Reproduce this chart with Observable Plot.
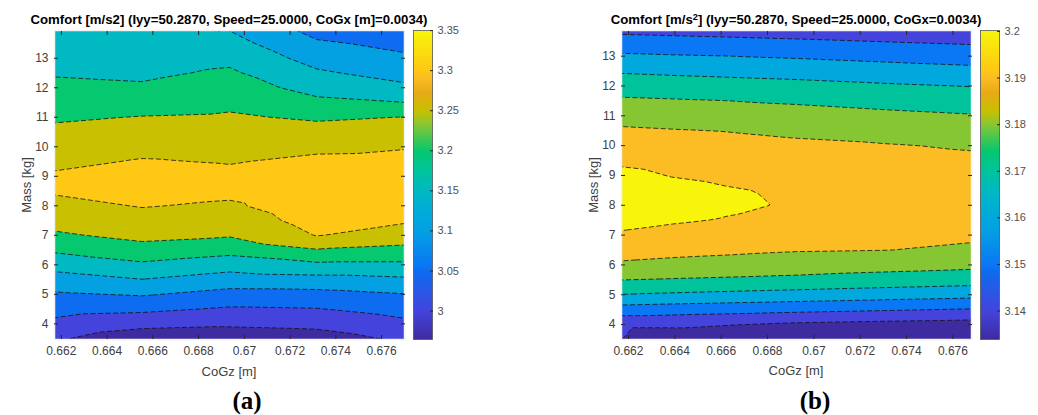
<!DOCTYPE html>
<html><head><meta charset="utf-8">
<script src="https://cdn.jsdelivr.net/npm/d3@7"></script>
<script src="https://cdn.jsdelivr.net/npm/@observablehq/plot@0.6"></script>
<style>
body{margin:0;background:#fff;font-family:"Liberation Sans",Arial,sans-serif;}
#root{position:relative;width:1038px;height:415px;overflow:hidden;background:#fff;}
.abs{position:absolute;line-height:1;white-space:nowrap;}
.title{font-weight:bold;font-size:13.2px;color:#000;transform:translate(-50%,-50%);}
.title sup{font-size:0.7em;vertical-align:0.45em;line-height:0;}
.xlabel{font-size:13px;color:#404040;transform:translate(-50%,-50%);}
.ylabel{font-size:13px;color:#404040;transform:translate(-50%,-50%) rotate(-90deg);}
.tag{font-family:"Liberation Serif",serif;font-weight:bold;font-size:25px;color:#000;transform:translate(-50%,-50%);}
</style></head><body><div id="root"></div>
<script>
// ---------- data: panel (a) ----------
const titleA = "Comfort [m/s2] (Iyy=50.2870, Speed=25.0000, CoGx [m]=0.0034)";
const massA = [3.45, 4, 4.5, 5, 5.5, 6, 6.5, 7, 7.5, 8, 8.5, 9, 9.5, 10, 10.5, 11, 11.5, 12, 12.5, 13, 13.5, 14];
const cogzA = [0.6617, 0.66553, 0.66935, 0.67318, 0.6770];
const comfortA1 = [3.0038, 3.038, 3.0667, 3.0935, 3.129, 3.168, 3.207, 3.2435, 3.266, 3.286, 3.305, 3.306, 3.2895, 3.2746, 3.2596, 3.244, 3.2275, 3.211, 3.196, 3.184, 3.172, 3.160];
const comfortA2 = [2.9639, 3.0148, 3.0605, 3.1045, 3.149, 3.1915, 3.2333, 3.2621, 3.2823, 3.3024, 3.318, 3.322, 3.3035, 3.2862, 3.269, 3.2517, 3.2293, 3.2064, 3.191, 3.1785, 3.166, 3.1535];
const comfortA3 = [2.967, 3.0074, 3.0441, 3.0833, 3.1264, 3.1718, 3.2161, 3.2539, 3.2736, 3.2933, 3.311, 3.312, 3.297, 3.2832, 3.2694, 3.2556, 3.2401, 3.2237, 3.2072, 3.1884, 3.1678, 3.147];
const comfortA4 = [2.974, 3.0127, 3.0479, 3.0845, 3.1322, 3.1905, 3.2467, 3.302, 3.318, 3.328, 3.33, 3.325, 3.311, 3.2891, 3.2674, 3.2435, 3.211, 3.1828, 3.1568, 3.1315, 3.1065, 3.0815];
const comfortA5 = [3.0065, 3.0388, 3.0684, 3.0982, 3.142, 3.1902, 3.237, 3.275, 3.306, 3.318, 3.323, 3.322, 3.313, 3.297, 3.274, 3.251, 3.2003, 3.1597, 3.1314, 3.1069, 3.0888, 3.074];
const levelsA = [3.0, 3.05, 3.1, 3.15, 3.2, 3.25, 3.3];
const colorDomainA = [2.9645, 3.3501];
const cbarTicksA = [3, 3.05, 3.1, 3.15, 3.2, 3.25, 3.3, 3.35];
const xDomainA = [0.6617, 0.6770];
const yDomainA = [3.47, 13.94];

// ---------- data: panel (b) ----------
const titleB = "Comfort [m/s<sup>2</sup>] (Iyy=50.2870, Speed=25.0000, CoGx=0.0034)";
const massB = [3.5, 4, 4.5, 5, 5.5, 6, 6.5, 7, 7.5, 8, 8.5, 9, 9.5, 10, 10.5, 11, 11.5, 12, 12.5, 13, 13.5, 14];
const cogzB = [0.6617, 0.6639, 0.6662, 0.6676, 0.6692, 0.6731, 0.6768];
const comfortB1 = [3.1401, 3.1416, 3.1556, 3.1697, 3.1801, 3.1885, 3.194, 3.1988, 3.2028, 3.205, 3.205, 3.2025, 3.1982, 3.1947, 3.1913, 3.1867, 3.1815, 3.1755, 3.169, 3.1615, 3.1536, 3.1457];
const comfortB2 = [3.134, 3.1417, 3.1546, 3.1686, 3.1793, 3.1873, 3.1928, 3.1971, 3.201, 3.2035, 3.203, 3.1996, 3.1966, 3.1935, 3.1905, 3.1858, 3.1808, 3.1747, 3.1681, 3.1607, 3.1529, 3.1451];
const comfortB3 = [3.134, 3.1404, 3.1537, 3.1676, 3.1786, 3.1863, 3.1919, 3.1957, 3.1995, 3.2015, 3.2008, 3.198, 3.1953, 3.1926, 3.1898, 3.1849, 3.1801, 3.1739, 3.1673, 3.1601, 3.1522, 3.1444];
const comfortB4 = [3.134, 3.1395, 3.1532, 3.1669, 3.1782, 3.1857, 3.1912, 3.1943, 3.1975, 3.2007, 3.1998, 3.1972, 3.1946, 3.1921, 3.1892, 3.1844, 3.1794, 3.1734, 3.1668, 3.1595, 3.1517, 3.144];
const comfortB5 = [3.134, 3.1383, 3.1525, 3.1662, 3.1777, 3.1851, 3.1906, 3.1931, 3.1962, 3.1985, 3.1978, 3.196, 3.1938, 3.1915, 3.1885, 3.1838, 3.1788, 3.1729, 3.1662, 3.1589, 3.1512, 3.1435];
const comfortB6 = [3.134, 3.1368, 3.1508, 3.1646, 3.1758, 3.1837, 3.1901, 3.1925, 3.1945, 3.1958, 3.1955, 3.1943, 3.1925, 3.1905, 3.1866, 3.1821, 3.1769, 3.1712, 3.1644, 3.1571, 3.1497, 3.1423];
const comfortB7 = [3.1345, 3.1358, 3.1492, 3.1631, 3.1743, 3.1824, 3.1888, 3.1912, 3.1932, 3.1943, 3.1942, 3.1932, 3.1915, 3.1892, 3.1849, 3.1806, 3.1753, 3.1697, 3.1627, 3.1556, 3.1484, 3.1413];
const levelsB = [3.14, 3.15, 3.16, 3.17, 3.18, 3.19, 3.2];
const colorDomainB = [3.1339, 3.2002];
const cbarTicksB = [3.14, 3.15, 3.16, 3.17, 3.18, 3.19, 3.2];
const xDomainB = [0.6617, 0.6768];
const yDomainB = [3.5, 13.86];

// ---------- shared ----------
const xTicks = [0.662, 0.664, 0.666, 0.668, 0.67, 0.672, 0.674, 0.676];
const yTicks = [4, 5, 6, 7, 8, 9, 10, 11, 12, 13];
const cmapStops = [0, 0.091, 0.221, 0.242, 0.351, 0.394, 0.481, 0.545, 0.61, 0.697, 0.74, 0.80, 0.848, 0.87, 1];
const cmapColors = ["#3e2ba0", "#4444dc", "#0e6cf0", "#0a78f5", "#03a0e2", "#00a8de", "#00b9c3", "#00c39b", "#05c870", "#8ac632", "#c8c000", "#e8aa18", "#fcbe23", "#ffc814", "#f8f50a"];

const cmap = d3.scaleLinear().domain(cmapStops).range(cmapColors).interpolate(d3.interpolateRgb).clamp(true);
const fmt = d => `${d}`;
const font = "'Liberation Sans', Arial, sans-serif";

function toGrid(cols, rows, columns) {
  const out = [];
  cols.forEach((x, i) => rows.forEach((y, j) => out.push({x, y, z: columns[i][j]})));
  return out;
}

function panel({data, xDomain, yDomain, cDomain, levels}) {
  const base = cDomain[0] - 1;
  return Plot.plot({
    width: 410, height: 380, marginTop: 30, marginBottom: 41, marginLeft: 54, marginRight: 6,
    style: {fontFamily: font, fontSize: "12px", background: "transparent", overflow: "visible"},
    x: {domain: xDomain, label: null},
    y: {domain: yDomain, label: null},
    color: {type: "linear", domain: cDomain, interpolate: t => cmap(t), clamp: true},
    marks: [
      Plot.contour(data, {x: "x", y: "y", fill: "z", thresholds: [base, ...levels], interpolate: "barycentric", stroke: "none", pixelSize: 1}),
      Plot.contour(data, {x: "x", y: "y", value: "z", thresholds: levels, interpolate: "barycentric", fill: "none", stroke: "#111", strokeWidth: 0.8, strokeDasharray: "5,2.5", pixelSize: 1, clip: true}),
      Plot.frame({stroke: "#f2f2f2", strokeWidth: 1.5}),
      Plot.axisX(xTicks, {anchor: "bottom", tickSize: -4, tickPadding: 11, tickFormat: fmt, stroke: "#262626", fill: "#404040", label: null}),
      Plot.axisX(xTicks, {anchor: "top", tickSize: -4, tickFormat: () => "", stroke: "#262626", label: null}),
      Plot.axisY(yTicks, {anchor: "left", tickSize: -4, tickPadding: 10, tickFormat: fmt, stroke: "#262626", fill: "#404040", label: null}),
      Plot.axisY(yTicks, {anchor: "right", tickSize: -4, tickFormat: () => "", stroke: "#262626", label: null})
    ]
  });
}

function colorbar({cDomain, ticks, width, marginRight}) {
  return Plot.plot({
    width, height: 380, marginTop: 30, marginBottom: 41, marginLeft: 8, marginRight,
    style: {fontFamily: font, fontSize: "11px", background: "transparent", overflow: "visible"},
    x: {domain: [0, 1], axis: null},
    y: {domain: cDomain, axis: null},
    color: {type: "linear", domain: cDomain, interpolate: t => cmap(t), clamp: true},
    marks: [
      Plot.raster({x1: 0, x2: 1, y1: cDomain[0], y2: cDomain[1], fill: (x, y) => y, pixelSize: 1}),
      Plot.frame({stroke: "#555", strokeWidth: 0.8}),
      Plot.axisY(ticks, {anchor: "right", tickSize: -3, tickPadding: 8, tickFormat: fmt, stroke: "#262626", fill: "#505050", label: null})
    ]
  });
}

const root = document.getElementById("root");
function place(node, left, top) {
  node.style.position = "absolute"; node.style.left = left + "px"; node.style.top = top + "px";
  root.appendChild(node);
}
function label(html, cls, x, y) {
  const d = document.createElement("div");
  d.className = "abs " + cls; d.innerHTML = html;
  d.style.left = x + "px"; d.style.top = y + "px";
  root.appendChild(d);
}

const dataA = toGrid(cogzA, massA, [comfortA1, comfortA2, comfortA3, comfortA4, comfortA5]);
const dataB = toGrid(cogzB, massB, [comfortB1, comfortB2, comfortB3, comfortB4, comfortB5, comfortB6, comfortB7]);

place(panel({data: dataA, xDomain: xDomainA, yDomain: yDomainA, cDomain: colorDomainA, levels: levelsA}), 0, 0);
place(colorbar({cDomain: colorDomainA, ticks: cbarTicksA, width: 70, marginRight: 43}), 405, 0);
place(panel({data: dataB, xDomain: xDomainB, yDomain: yDomainB, cDomain: colorDomainB, levels: levelsB}), 567, 0);
place(colorbar({cDomain: colorDomainB, ticks: cbarTicksB, width: 65, marginRight: 38}), 972, 0);

label(titleA, "title", 229, 20);
label(titleB, "title", 796, 20);
label("Mass [kg]", "ylabel", 26, 185);
label("Mass [kg]", "ylabel", 593, 185);
label("CoGz [m]", "xlabel", 229, 371);
label("CoGz [m]", "xlabel", 796, 370);
label("(a)", "tag", 247, 400);
label("(b)", "tag", 815, 400);
</script></body></html>
